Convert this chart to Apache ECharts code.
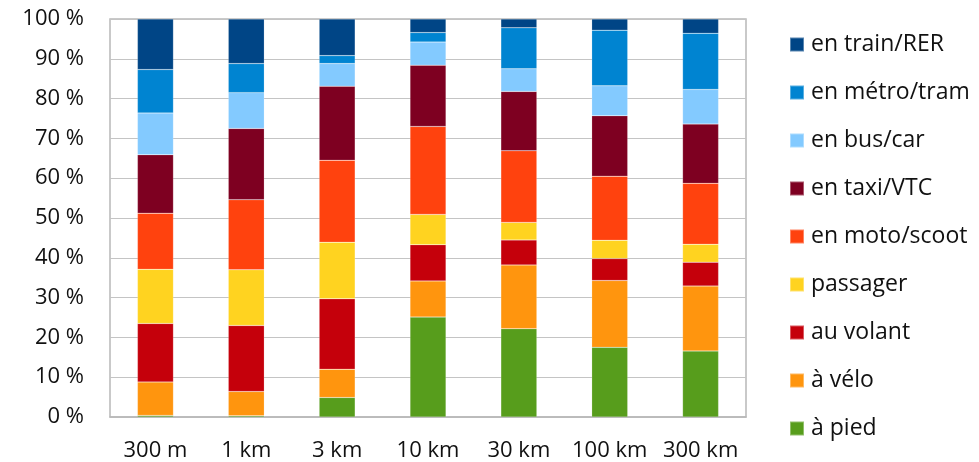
<!DOCTYPE html>
<html>
<head>
<meta charset="utf-8">
<script src="https://cdn.jsdelivr.net/npm/echarts@6/dist/echarts.min.js"></script>
<style>
  html, body { margin: 0; padding: 0; background: #fff; }
  #chart { width: 979px; height: 462px; }
</style>
</head>
<body>
<div id="chart"></div>
<script>
// Distance classes (x axis)
const distances = ['300 m', '1 km', '3 km', '10 km', '30 km', '100 km', '300 km'];

// Share of each travel mode per distance class, in percent (stacked bottom to top)
const aPied      = [0.4, 0.3, 4.9, 25.1, 22.2, 17.5, 16.6];
const aVelo      = [8.4, 6.1, 7.1, 9.1, 16.0, 16.8, 16.3];
const auVolant   = [14.7, 16.6, 17.7, 9.1, 6.3, 5.5, 6.0];
const passager   = [13.6, 14.0, 14.2, 7.6, 4.4, 4.6, 4.5];
const enMoto     = [14.1, 17.6, 20.6, 22.1, 18.0, 16.1, 15.3];
const enTaxi     = [14.7, 17.9, 18.6, 15.4, 14.9, 15.2, 14.9];
const enBus      = [10.5, 9.0, 5.7, 5.8, 5.7, 7.5, 8.7];
const enMetro    = [10.9, 7.3, 2.0, 2.4, 10.3, 14.0, 14.1];
const enTrain    = [12.7, 11.2, 9.2, 3.4, 2.2, 2.8, 3.6];

// Y axis ticks
const yTicks = [0, 10, 20, 30, 40, 50, 60, 70, 80, 90, 100];

const modes = [
  { name: 'à pied',         data: aPied,    color: '#579d1c' },
  { name: 'à vélo',         data: aVelo,    color: '#ff950e' },
  { name: 'au volant',      data: auVolant, color: '#c5000b' },
  { name: 'passager',       data: passager, color: '#ffd320' },
  { name: 'en moto/scoot',  data: enMoto,   color: '#ff420e' },
  { name: 'en taxi/VTC',    data: enTaxi,   color: '#7e0021' },
  { name: 'en bus/car',     data: enBus,    color: '#83caff' },
  { name: 'en métro/tram',  data: enMetro,  color: '#0084d1' },
  { name: 'en train/RER',   data: enTrain,  color: '#004586' }
];

const FONT = '"Open Sans"';
const TEXT = '#111111';

const chart = echarts.init(document.getElementById('chart'), null, { renderer: 'canvas' });

chart.setOption({
  animation: false,
  backgroundColor: '#ffffff',
  textStyle: { fontFamily: FONT },
  grid: {
    left: 110, right: 233, top: 19, bottom: 44,
    show: true, borderColor: '#b8b8b8', borderWidth: 1.5
  },
  legend: {
    orient: 'vertical',
    left: 784, top: 28,
    itemWidth: 14, itemHeight: 14, itemGap: 25,
    icon: 'rect',
    data: modes.map(m => m.name).reverse(),
    textStyle: { fontFamily: FONT, fontSize: 23, color: TEXT, padding: [0, 0, 0, 2] }
  },
  xAxis: {
    type: 'category',
    data: distances,
    axisLine: { show: true, lineStyle: { color: '#b8b8b8', width: 1.5 } },
    axisTick: { show: false },
    axisLabel: { fontFamily: FONT, fontSize: 22, color: TEXT, margin: 23, interval: 0 }
  },
  yAxis: {
    type: 'value',
    min: yTicks[0], max: yTicks[yTicks.length - 1], interval: 10,
    axisLine: { show: false },
    axisTick: { show: false },
    splitLine: { lineStyle: { color: '#c4c4c4', width: 1 } },
    axisLabel: { fontFamily: FONT, fontSize: 22, color: TEXT, margin: 26, formatter: '{value} %' }
  },
  series: modes.map(m => ({
    name: m.name,
    type: 'bar',
    stack: 'total',
    barWidth: 36,
    data: m.data,
    itemStyle: { color: m.color, borderColor: 'rgba(255,255,255,0.35)', borderWidth: 0.5 }
  }))
});
</script>
</body>
</html>
